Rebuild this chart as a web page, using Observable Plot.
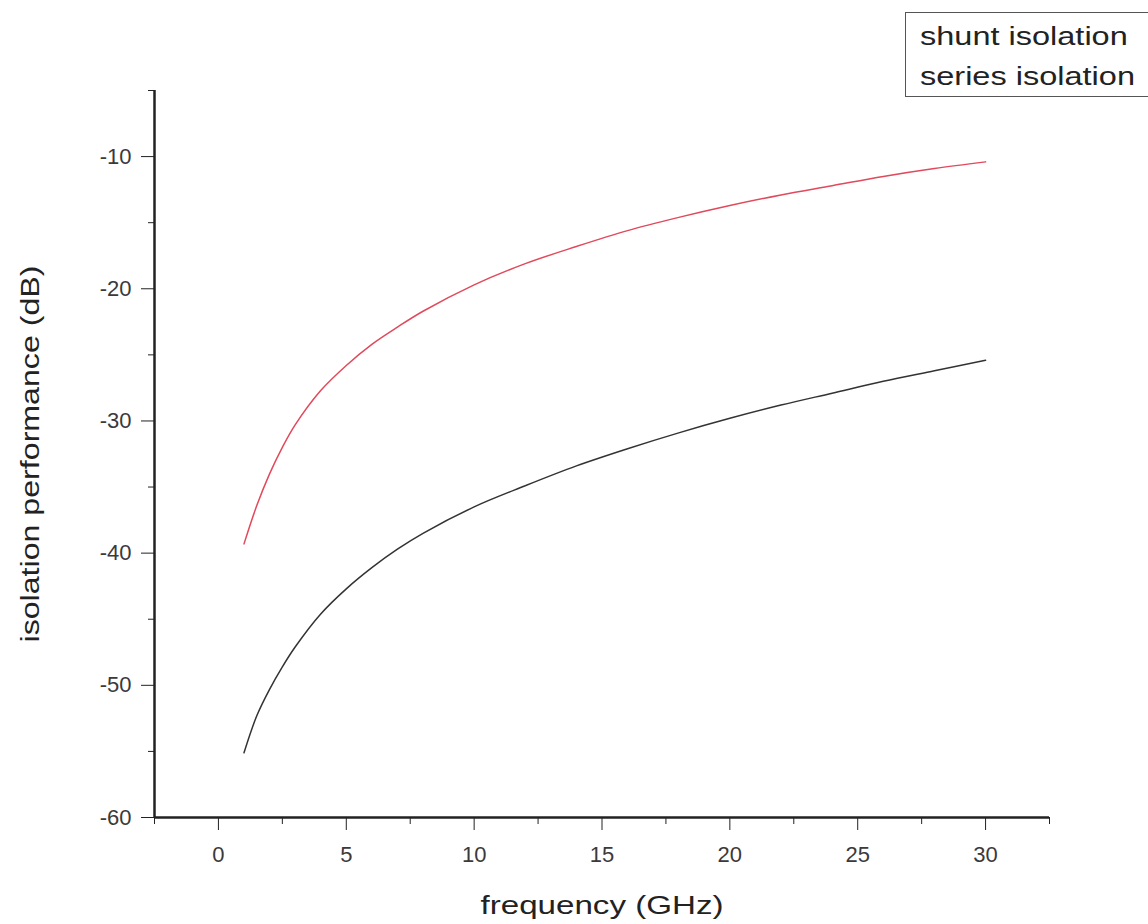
<!DOCTYPE html>
<html>
<head>
<meta charset="utf-8">
<script src="https://cdn.jsdelivr.net/npm/d3@7"></script>
<script src="https://cdn.jsdelivr.net/npm/@observablehq/plot@0.6"></script>
<style>
  html, body { margin: 0; padding: 0; background: #fff; overflow: hidden; }
  #wrap { position: relative; width: 1148px; height: 924px; overflow: hidden; font-family: "Liberation Sans", Arial, sans-serif; }
  #legend { position: absolute; left: 905px; top: 12px; width: 260px; height: 85px; border: 1.5px solid #555; box-sizing: border-box; padding: 3px 0 0 14px; font-size: 25px; line-height: 40px; color: #222; }
  #legend div { transform: scaleX(1.3); transform-origin: left center; white-space: nowrap; }
</style>
</head>
<body>
<div id="wrap"><div id="legend"></div></div>
<script>
const frequency = [1, 1.5, 2, 2.5, 3, 4, 5, 6, 7, 8, 10, 12, 14, 16, 18, 20, 22, 24, 26, 28, 30];
const shuntIsolation = [-39.3, -36.4, -34.0, -32.0, -30.3, -27.7, -25.8, -24.2, -22.9, -21.7, -19.7, -18.1, -16.8, -15.6, -14.6, -13.7, -12.9, -12.2, -11.5, -10.9, -10.4];
const seriesIsolation = [-55.1, -52.3, -50.3, -48.6, -47.1, -44.6, -42.7, -41.1, -39.7, -38.5, -36.5, -34.9, -33.4, -32.1, -30.9, -29.8, -28.8, -27.9, -27.0, -26.2, -25.4];
const seriesNames = ["shunt isolation", "series isolation"];
const seriesColors = ["#e04a5c", "#333333"];
const xTicks = [0, 5, 10, 15, 20, 25, 30];
const xMinorTicks = [-2.5, 2.5, 7.5, 12.5, 17.5, 22.5, 27.5, 32.5];
const yTicks = [-60, -50, -40, -30, -20, -10];
const yMinorTicks = [-55, -45, -35, -25, -15, -5];
const xDomain = [-2.5, 32.5];
const yDomain = [-60, -5];
const xLabel = "frequency (GHz)";
const yLabel = "isolation performance (dB)";

const data = [];
frequency.forEach((f, i) => {
  data.push({f, v: shuntIsolation[i], s: seriesNames[0]});
  data.push({f, v: seriesIsolation[i], s: seriesNames[1]});
});

const fmt = d => String(d);
const chart = Plot.plot({
  width: 1148,
  height: 924,
  marginLeft: 154,
  marginRight: 99,
  marginTop: 90,
  marginBottom: 107,
  style: {fontFamily: "'Liberation Sans', Arial, sans-serif", fontSize: "22px", color: "#222", background: "transparent"},
  x: {domain: xDomain},
  y: {domain: yDomain},
  color: {domain: seriesNames, range: seriesColors},
  marks: [
    Plot.axisX({ticks: xMinorTicks, tickSize: 7, tickWidth: 2, stroke: "#222", text: null, label: null}),
    Plot.axisX({ticks: xTicks, tickSize: 13, tickWidth: 2, stroke: "#222", tickPadding: 16, fontSize: 22, fill: "#3a3a3a",
      tickFormat: fmt, label: xLabel, labelAnchor: "center", labelArrow: "none", labelOffset: 96}),
    Plot.axisY({ticks: yMinorTicks, tickSize: 6, tickWidth: 2, stroke: "#222", text: null, label: null}),
    Plot.axisY({ticks: yTicks, tickSize: 13, tickWidth: 2, stroke: "#222", tickPadding: 10, fontSize: 22, fill: "#3a3a3a",
      tickFormat: fmt, label: yLabel, labelAnchor: "center", labelArrow: "none", labelOffset: 133}),
    Plot.ruleX([xDomain[0]], {y1: yDomain[0], y2: yDomain[1], stroke: "#222", strokeWidth: 2.5}),
    Plot.ruleY([yDomain[0]], {x1: xDomain[0], x2: xDomain[1], stroke: "#222", strokeWidth: 2.5}),
    Plot.line(data, {x: "f", y: "v", z: "s", stroke: "s", strokeWidth: 1.5, curve: "catmull-rom"})
  ]
});
document.getElementById("wrap").prepend(chart);
chart.style.position = "absolute";
chart.style.left = "0";
chart.style.top = "0";
// axis label sizing (reference labels are wide)
chart.querySelectorAll("text").forEach(t => {
  const s = t.textContent;
  if (s === xLabel || s === yLabel) {
    t.setAttribute("font-size", "25");
    t.setAttribute("fill", "#222");
    t.setAttribute("textLength", s === xLabel ? 243 : 377);
    t.setAttribute("lengthAdjust", "spacingAndGlyphs");
  }
});
const leg = document.getElementById("legend");
leg.innerHTML = seriesNames.map(n => `<div>${n}</div>`).join("");
</script>
</body>
</html>
